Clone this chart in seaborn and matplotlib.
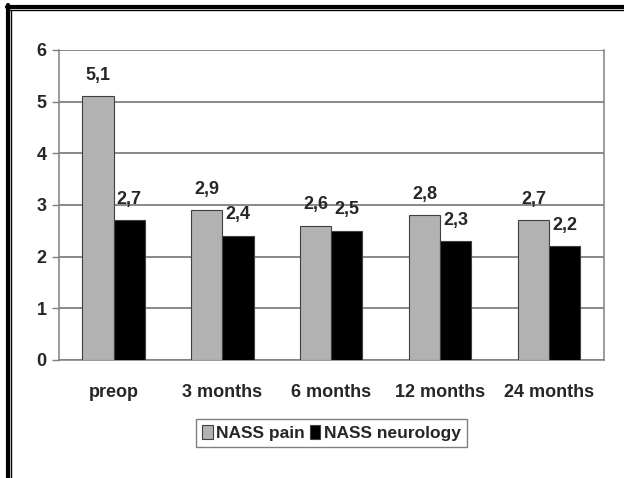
import pandas as pd
import matplotlib.pyplot as plt
import seaborn as sns
from matplotlib.lines import Line2D

# data
periods = ["preop", "3 months", "6 months", "12 months", "24 months"]
nass_pain = [5.1, 2.9, 2.6, 2.8, 2.7]
nass_neuro = [2.7, 2.4, 2.5, 2.3, 2.2]
series = ["NASS pain", "NASS neurology"]
labels_pain = ["5,1", "2,9", "2,6", "2,8", "2,7"]
labels_neuro = ["2,7", "2,4", "2,5", "2,3", "2,2"]

df = pd.DataFrame({
    "period": periods * 2,
    "score": nass_pain + nass_neuro,
    "series": [series[0]] * 5 + [series[1]] * 5,
})

sns.set_style("white")
plt.rcParams["font.family"] = ["Liberation Sans", "DejaVu Sans"]
plt.rcParams["font.weight"] = "bold"

fig = plt.figure(figsize=(6.24, 4.78), dpi=100)
ax = fig.add_axes([0.0946, 0.2469, 0.873, 0.6485])

sns.barplot(data=df, x="period", y="score", hue="series", order=periods,
            hue_order=series, palette=["#b2b2b2", "#000000"], width=0.57,
            edgecolor="#404040", linewidth=0.8, ax=ax, zorder=3)

# value labels above bars
for cont, labs in zip(ax.containers, [labels_pain, labels_neuro]):
    ax.bar_label(cont, labels=labs, padding=9, fontsize=13, fontweight="bold")

ax.set_ylim(0, 6)
ax.set_xlim(-0.5, 4.5)
ax.set_yticks(range(7))
ax.grid(axis="y", color="#6a6a6a", linewidth=1.1, zorder=0)
ax.set_axisbelow(True)
ax.set_xlabel("")
ax.set_ylabel("")

for s in ["left", "right", "bottom"]:
    ax.spines[s].set_visible(True)
    ax.spines[s].set_color("#808080")
    ax.spines[s].set_linewidth(1.1)
ax.spines["top"].set_visible(False)

# ticks between categories on x, outward on y
ax.set_xticks([-0.5, 0.5, 1.5, 2.5, 3.5, 4.5], minor=True)
ax.tick_params(axis="x", which="minor", direction="out", length=6,
               color="#808080", width=1)
ax.tick_params(axis="x", which="major", length=0, pad=17, labelsize=13)
ax.tick_params(axis="y", direction="out", length=5, color="#808080",
               width=1, pad=4, labelsize=13, left=True)
for t in ax.get_xticklabels() + ax.get_yticklabels():
    t.set_fontweight("bold")

ax.legend(loc="upper center", bbox_to_anchor=(0.5, -0.19), ncol=2,
          frameon=True, fancybox=False, edgecolor="#606060",
          prop={"weight": "bold", "size": 12.5}, handlelength=0.6,
          handleheight=0.9, handletextpad=0.2, columnspacing=0.3,
          borderpad=0.35, borderaxespad=0)
ax.get_legend().get_frame().set_linewidth(1.0)

# double border on top and left
W, H = 624, 478
fig.add_artist(Line2D([6.5 / W, 1], [1 - 6.5 / H, 1 - 6.5 / H], color="black", lw=3.0))
fig.add_artist(Line2D([10 / W, 1], [1 - 10 / H, 1 - 10 / H], color="black", lw=1.0))
fig.add_artist(Line2D([7.5 / W, 7.5 / W], [0, 1 - 5 / H], color="black", lw=3.0))
fig.add_artist(Line2D([11 / W, 11 / W], [0, 1 - 9.5 / H], color="black", lw=1.0))

fig.savefig("out.png", dpi=100)
